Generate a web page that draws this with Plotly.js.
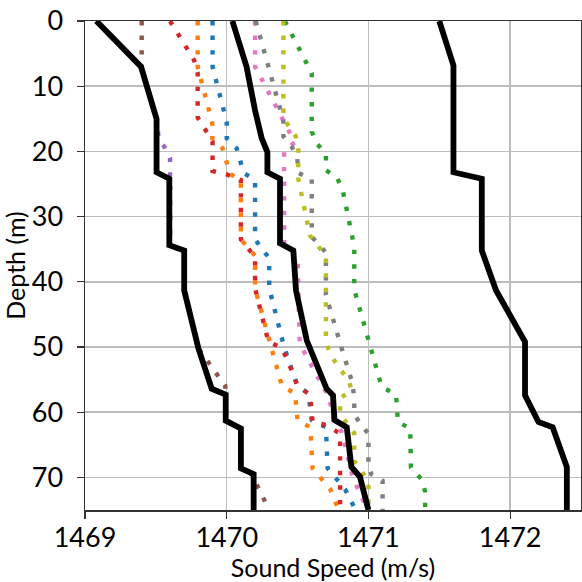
<!DOCTYPE html>
<html>
<head>
<meta charset="utf-8">
<script src="https://cdn.plot.ly/plotly-3.0.1.min.js"></script>
<style>
  html, body { margin: 0; padding: 0; background: #ffffff; }
  #chart { width: 582px; height: 582px; }
</style>
</head>
<body>
<div id="chart"></div>
<script>
// Individual sound-speed profiles (depth in m, speed in m/s)
const blueDepth   = [0, 7, 15.5, 18, 19.5, 21.5, 23.3, 24.4, 33.5, 36.4, 41, 50, 56, 57.1, 61.2, 62.3, 68.6, 71.8, 75];
const blueSpeed   = [1469.90, 1469.90, 1470.00, 1470.00, 1470.07, 1470.10, 1470.12, 1470.20, 1470.20, 1470.30, 1470.30, 1470.405, 1470.50, 1470.576, 1470.60, 1470.70, 1470.712, 1470.835, 1470.91];

const orangeDepth = [0, 7, 15.7, 18, 19.5, 21.5, 23.4, 24.6, 33.5, 36, 41, 56, 57.1, 61.3, 62.3, 68.6, 71.8, 75];
const orangeSpeed = [1469.795, 1469.795, 1469.898, 1469.898, 1469.97, 1470.00, 1470.023, 1470.10, 1470.10, 1470.20, 1470.20, 1470.39, 1470.482, 1470.50, 1470.59, 1470.606, 1470.73, 1470.79];

const greenDepth  = [0, 8, 17, 18.9, 20.4, 22.9, 23.9, 25.9, 34.6, 41.2, 56.1, 57.3, 61.5, 62.5, 68.5, 70.3, 72.2, 75];
const greenSpeed  = [1470.41, 1470.60, 1470.60, 1470.64, 1470.70, 1470.70, 1470.776, 1470.818, 1470.90, 1470.90, 1471.093, 1471.195, 1471.208, 1471.295, 1471.30, 1471.375, 1471.40, 1471.40];

const redDepth    = [0, 6, 8, 14.8, 16.7, 18.5, 23, 23.5, 24.4, 33.5, 36.2, 41, 49.2, 50.1, 52, 56, 57.3, 61.5, 62, 63.3, 75];
const redSpeed    = [1469.60, 1469.77, 1469.795, 1469.795, 1469.85, 1469.90, 1469.90, 1469.995, 1470.10, 1470.10, 1470.20, 1470.20, 1470.294, 1470.385, 1470.43, 1470.50, 1470.588, 1470.606, 1470.705, 1470.80, 1470.80];

const purpleDepth = [0, 7, 15, 18, 19.3, 21, 24.2, 34.4, 35.2, 41.3, 50.2, 56.4, 57.3, 61.3, 62.5, 68.6, 69.5, 75];
const purpleSpeed = [1469.08, 1469.40, 1469.505, 1469.52, 1469.56, 1469.60, 1469.60, 1469.60, 1469.70, 1469.70, 1469.80, 1469.894, 1469.993, 1469.993, 1470.10, 1470.10, 1470.19, 1470.19];

const brownDepth  = [0, 7, 15, 23.2, 24.2, 34.4, 35.2, 41.3, 50.2, 56, 57.3, 61.3, 62.5, 68.6, 69.5, 75];
const brownSpeed  = [1469.40, 1469.40, 1469.505, 1469.505, 1469.60, 1469.60, 1469.70, 1469.70, 1469.80, 1469.99, 1469.993, 1469.993, 1470.10, 1470.10, 1470.175, 1470.30];

const pinkDepth   = [0, 7, 18.6, 20, 24.4, 34, 36.2, 49.5, 56.5, 57.5, 61.5, 63, 65.5, 70, 73.5, 75];
const pinkSpeed   = [1470.20, 1470.20, 1470.48, 1470.405, 1470.405, 1470.405, 1470.50, 1470.515, 1470.69, 1470.72, 1470.76, 1470.81, 1470.84, 1470.89, 1470.963, 1471.00];

const grayDepth   = [0, 15.3, 17.7, 19.3, 21.1, 23.3, 24.2, 33.1, 35.5, 42, 49.4, 55.6, 57.9, 60.3, 61.7, 63.3, 67.8, 69.5, 70.5, 75];
const graySpeed   = [1470.205, 1470.40, 1470.40, 1470.46, 1470.498, 1470.505, 1470.60, 1470.60, 1470.70, 1470.70, 1470.80, 1470.888, 1470.90, 1470.90, 1470.94, 1471.00, 1471.00, 1471.02, 1471.10, 1471.10];

const oliveDepth  = [0, 14.9, 15.8, 17.7, 19.7, 24.2, 32.9, 34.7, 36.1, 49.4, 51.4, 53.3, 55, 56.6, 57.9, 60.3, 63.2, 67.5, 69, 70.6, 75];
const oliveSpeed  = [1470.40, 1470.40, 1470.428, 1470.488, 1470.505, 1470.505, 1470.588, 1470.646, 1470.70, 1470.70, 1470.74, 1470.795, 1470.86, 1470.88, 1470.80, 1470.80, 1470.90, 1470.90, 1470.952, 1471.00, 1471.00];

// Envelope and mean profiles
const minDepth  = [0, 7, 15, 23.2, 24.2, 34.4, 35.2, 41.3, 50.2, 56.4, 57.3, 61.3, 62.5, 68.6, 69.5, 75];
const minSpeed  = [1469.08, 1469.395, 1469.505, 1469.505, 1469.595, 1469.595, 1469.70, 1469.70, 1469.80, 1469.894, 1469.993, 1469.993, 1470.10, 1470.10, 1470.19, 1470.19];

const meanDepth = [0, 7, 13.7, 18, 20.1, 23.2, 24.2, 34.1, 35.2, 41.3, 49, 56.4, 57.4, 61.2, 62.3, 68.4, 69.9, 75];
const meanSpeed = [1470.04, 1470.14, 1470.20, 1470.247, 1470.287, 1470.287, 1470.376, 1470.376, 1470.47, 1470.489, 1470.565, 1470.705, 1470.75, 1470.76, 1470.847, 1470.88, 1470.94, 1471.00];

const maxDepth  = [0, 6.8, 23.2, 24.2, 35.2, 41.3, 49.2, 57.4, 61.5, 62.3, 68.4, 75];
const maxSpeed  = [1471.50, 1471.60, 1471.60, 1471.80, 1471.80, 1471.90, 1472.105, 1472.105, 1472.20, 1472.30, 1472.40, 1472.40];

const xTicks = [1469, 1470, 1471, 1472];
const yTicks = [0, 10, 20, 30, 40, 50, 60, 70];

const profiles = [
  [blueSpeed,   blueDepth,   '#1f77b4'],
  [orangeSpeed, orangeDepth, '#ff7f0e'],
  [greenSpeed,  greenDepth,  '#2ca02c'],
  [redSpeed,    redDepth,    '#d62728'],
  [purpleSpeed, purpleDepth, '#9467bd'],
  [brownSpeed,  brownDepth,  '#8c564b'],
  [pinkSpeed,   pinkDepth,   '#e377c2'],
  [graySpeed,   grayDepth,   '#7f7f7f'],
  [oliveSpeed,  oliveDepth,  '#bcbd22']
];

const traces = profiles.map(([x, y, c]) => ({
  x: x, y: y, type: 'scatter', mode: 'lines',
  line: { color: c, width: 4.4, dash: '4.4px,10.2px' },
  hoverinfo: 'skip'
}));

[[minSpeed, minDepth], [meanSpeed, meanDepth], [maxSpeed, maxDepth]].forEach(([x, y]) => {
  traces.push({
    x: x, y: y, type: 'scatter', mode: 'lines',
    line: { color: '#000000', width: 5.8 },
    hoverinfo: 'skip'
  });
});

const font = 'Lato, "DejaVu Sans", sans-serif';

const layout = {
  width: 582, height: 582,
  margin: { l: 85, r: 1, t: 21, b: 72 },
  paper_bgcolor: '#ffffff', plot_bgcolor: '#ffffff',
  showlegend: false,
  font: { family: font, color: '#000000' },
  xaxis: {
    range: [1469, 1472.5],
    tickvals: xTicks, ticktext: xTicks.map(String),
    tickfont: { size: 27, family: font },
    ticks: 'outside', ticklen: 7, tickwidth: 1.2, tickcolor: '#333333',
    ticklabelstandoff: -4,
    showgrid: true, gridcolor: '#bdbdbd', gridwidth: 1.5,
    showline: true, linecolor: '#333333', linewidth: 1.5, mirror: true,
    zeroline: false,
    title: { text: 'Sound Speed (m/s)', font: { size: 25, family: font }, standoff: 12 },
    automargin: false
  },
  yaxis: {
    range: [75, 0],
    tickvals: yTicks, ticktext: yTicks.map(String),
    tickfont: { size: 27, family: font },
    ticks: 'outside', ticklen: 7, tickwidth: 1.2, tickcolor: '#333333',
    ticklabelstandoff: 8,
    showgrid: true, gridcolor: '#bdbdbd', gridwidth: 1.5,
    showline: true, linecolor: '#333333', linewidth: 1.5, mirror: true,
    zeroline: false,
    title: { text: 'Depth (m)', font: { size: 25, family: font }, standoff: 4 },
    automargin: false
  }
};

Plotly.newPlot('chart', traces, layout, { staticPlot: true, displayModeBar: false });
</script>
</body>
</html>
